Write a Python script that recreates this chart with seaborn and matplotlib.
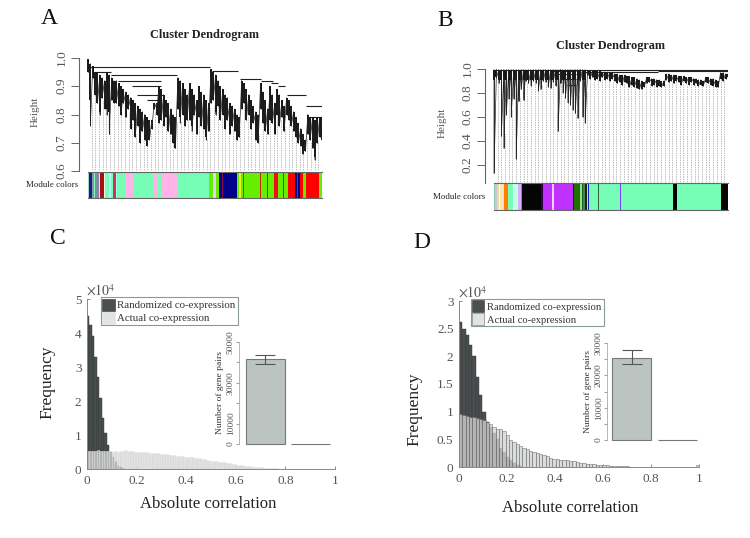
import numpy as np
import seaborn as sns
import matplotlib.pyplot as plt
from matplotlib.patches import Patch

W, H = 750, 538

# panel A dendrogram, one entry per stroke, left to right
a_top = [.995, .98, .97, .95, .95, .94, .93, .92, .95, .94, .93, .92,
         .92, .91, .90, .89, .88, .87, .86, .85, .84, .83, .82, .81, .80, .79, .78, .78,
         .84, .84, .90, .89, .87, .85, .84, .82, .80, .79,
         .93, .92, .91, .89, .87, .91, .89, .87, .85, .90, .88, .87, .85, .84,
         .96, .95, .94, .92, .90, .89, .87, .86, .84, .83, .82, .80, .79,
         .92, .91, .89, .87, .85, .83, .81, .80, .91, .88, .85, .82, .90, .87, .84,
         .89, .87, .85, .83, .86, .85, .83, .81, .79, .77, .75, .73, .71,
         .80, .79, .79, .78, .79, .79, .79]
a_bot = [.95, .76, .93, .87, .84, .80, .86, .82, .80, .73, .85, .84,
         .84, .83, .80, .84, .79, .82, .75, .78, .72, .76, .70, .74, .71, .69, .71, .75,
         .82, .80, .77, .78, .76, .79, .74, .73, .70, .68,
         .82, .77, .80, .76, .78, .78, .74, .80, .73, .79, .76, .75, .71, .74,
         .84, .85, .80, .83, .78, .80, .75, .78, .73, .76, .74, .71, .72,
         .82, .84, .78, .80, .75, .77, .71, .70, .82, .77, .74, .73, .78, .77, .73,
         .80, .76, .79, .74, .80, .78, .76, .74, .72, .70, .69, .66, .67,
         .73, .71, .68, .64, .70, .72, .71]
a_merge_x0 = [.01, .03, .10, .13, .19, .21, .25, .53, .65, .74, .78, .81, .85, .93, .95]
a_merge_x1 = [.52, .10, .38, .31, .31, .32, .30, .64, .74, .79, .81, .84, .93, 1.0, 1.0]
a_merge_h = [.967, .95, .94, .92, .90, .87, .85, .955, .925, .92, .91, .90, .87, .83, .79]

a_edges = [25, 28, 36, 43, 45, 58, 60, 73, 75, 88, 95, 100, 108, 113, 138, 160, 220, 233, 243, 292,
           388, 400, 408, 416, 425, 430, 472, 478, 484, 488, 491, 540, 543, 560, 562, 580, 594,
           608, 612, 622, 643, 650, 654, 660, 668, 678, 717, 725]
a_colors = ['#9fd8c8', '#1a1a80', '#8d8fb0', '#76fdb6', '#7f8ca8', '#e0e0e0', '#a81010', '#f0f0f0',
            '#76fdb6', '#a8fff0', '#76fdb6', '#d03060', '#a0ffe0', '#76fdb6', '#ffb3e6', '#76fdb6',
            '#ffb3e6', '#76fdb6', '#ffb3e6', '#76fdb6', '#66ee00', '#e8d0f0', '#66ee00', '#00008b',
            '#8b1040', '#00008b', '#66ee00', '#f0f020', '#66ee00', '#e82000', '#66ee00', '#d02010',
            '#66ee00', '#d02010', '#66ee00', '#f01010', '#66ee00', '#f01010', '#66ee00', '#ff0000',
            '#00008b', '#ff0000', '#00008b', '#ff0000', '#66ee00', '#ff0000', '#66ee00']

# panel B dendrogram
b_top = [.995] * 38 + [.985, .985, .98, .98, .98, .98, .975, .975, .975, .97, .97,
                       .96, .96, .95, .95, .95, .94, .94, .93, .93, .92, .91, .90, .89,
                       .93, .93, .92, .92, .91, .91, .90, .90,
                       .96, .96, .95, .95, .95, .94, .94, .94, .93, .93, .93, .92, .92, .91, .91, .90,
                       .93, .93, .92, .92, .91, .90, .97, .97, .96, .96]
b_bot = [.13, .93, .88, .44, .34, .62, .75, .60, .75, .25, .73, .83, .74, .90, .88, .86, .90, .88,
         .82, .83, .90, .89, .85, .84, .89, .86, .48, .88, .80, .76, .72, .70, .66, .63, .59, .90, .60, .55,
         .95, .92, .93, .91, .92, .90, .93, .91, .92, .90, .92,
         .90, .88, .89, .87, .89, .88, .85, .87, .85, .84, .83, .83, .85,
         .88, .89, .86, .87, .85, .86, .85, .86,
         .91, .89, .90, .88, .90, .89, .87, .90, .88, .87, .89, .87, .88, .86, .87, .86,
         .89, .88, .87, .86, .85, .85, .92, .90, .92, .93]
b_merge_x0 = [.0, .25, .27, .28, .31, .37, .70]
b_merge_x1 = [1.0, .35, .35, .35, .35, .70, 1.0]
b_merge_h = [.992, .98, .955, .915, .865, .975, .98]

b_edges = [13, 16, 22, 28, 32, 36, 42, 54, 70, 74, 84, 94, 97, 155, 160, 186, 193, 250, 253, 270, 276,
           280, 286, 291, 294, 297, 325, 327, 389, 393, 549, 561, 691, 713]
b_colors = ['#8fd0c0', '#c8c8c8', '#e8d8b0', '#ffffff', '#ffe8a0', '#f0e0d0', '#ff7f00', '#76fdb6',
            '#f0fff8', '#c0ffe8', '#d8b0ff', '#909090', '#050505', '#300040', '#c030ff', '#f8d0f8',
            '#c030ff', '#300040', '#207000', '#90e090', '#206020', '#508050', '#103010', '#76fdb6',
            '#2020d0', '#76fdb6', '#306040', '#76fdb6', '#8040ff', '#76fdb6', '#050505', '#76fdb6',
            '#050505']

# panel C histograms, x 10^4, bins of 0.01
c_random = [4.5, 4.25, 3.9, 3.3, 2.7, 2.1, 1.5, 1.05, .7, .5, .35, .2, .1, .05, .02]
c_actual = [.53, .54, .53, .54, .55, .54, .53, .54, .53, .52, .50, .52, .51, .53, .52, .55, .54, .53, .52, .51,
            .51, .50, .50, .49, .49, .48, .47, .47, .46, .45, .44, .44, .43, .42, .41, .40, .39, .38, .37, .36,
            .36, .35, .34, .33, .32, .31, .30, .28, .27, .25, .25, .24, .23, .22, .21, .20, .18, .17, .15, .14,
            .13, .12, .11, .10, .09, .08, .07, .06, .06, .05, .05, .04, .03, .03, .02, .02, .02, .01, .01, .01,
            .01, .01, .005, .005, .005, .005, 0, 0, 0, 0, 0, 0, 0, 0, 0, 0, 0, 0, 0, 0]
c_pairs = [41900, 60]
c_err = [(39400, 43800), (60, 60)]

# panel D histograms, x 10^4, 72 bins
d_random = [2.62, 2.5, 2.38, 2.2, 2.0, 1.62, 1.3, 1.0, .82, .72, .62, .5, .35, .27, .18, .12, .07, .03, .02]
d_actual = [.96, .94, .93, .91, .90, .88, .87, .85, .82, .77, .73, .68, .68, .65, .58, .48, .45, .41, .38, .35,
            .32, .29, .27, .25, .23, .21, .19, .16, .15, .14, .13, .13, .12, .11, .10, .09, .08, .07, .06, .06,
            .05, .045, .04, .035, .03, .025, .02, .018, .015, .012, .01, .008, .006, .005, .004, .003, .002, 0,
            0, 0, 0, 0, 0, 0, 0, 0, 0, 0, 0, 0, 0, .03]
d_pairs = [25500, 60]
d_err = [(23400, 27700), (60, 60)]

legend_names = ['Randomized co-expression', 'Actual co-expression']
fractions_ticks = [0, 0.2, 0.4, 0.6, 0.8, 1]
fractions_labels = ['0', '0.2', '0.4', '0.6', '0.8', '1']

sns.set_theme(style='white')
plt.rcParams['font.family'] = ['Liberation Serif', 'DejaVu Serif']
plt.rcParams['mathtext.fontset'] = 'stix'

fig = plt.figure(figsize=(W / 100, H / 100), dpi=100, facecolor='white')


def px_axes(left, top, right, bottom):
    ax = fig.add_axes([left / W, 1 - bottom / H, (right - left) / W, (bottom - top) / H])
    ax.patch.set_alpha(0)
    return ax


def px_text(x, y, s, **kw):
    kw.setdefault('ha', 'center')
    kw.setdefault('va', 'center')
    fig.text(x / W, 1 - y / H, s, **kw)


def dendro(box, x0_px, ylim, ticks, tops, bots, mx0, mx1, mh, n_guides, band, stroke):
    left, top, right, bottom = box
    ax = px_axes(*box)
    # leaves start a little to the right of the axis line
    span = right - x0_px
    ax.set_xlim((left - x0_px) / span, 1)
    ax.set_ylim(*ylim)
    tops = np.array(tops)
    bots = np.array(bots)
    x = np.linspace(0, 1, len(tops))
    guide_x = np.linspace(0.015, 1, n_guides)
    ax.vlines(guide_x, ylim[0], np.interp(guide_x, x, bots), color='#777777', lw=0.5, ls=(0, (1, 1.5)), zorder=1)
    # heavy band near the merge, thin hairs below it, sawtooth to knit them together
    ax.vlines(x, bots, tops, color='#333333', lw=0.7, zorder=3)
    ax.vlines(x, np.maximum(bots, tops - band), tops, color='#141414', lw=stroke, zorder=3)
    ax.plot(np.repeat(x, 2), np.column_stack([tops, bots]).ravel(), color='#222222', lw=0.5, zorder=3)
    ax.hlines(mh, mx0, mx1, color='#222222', lw=0.8, zorder=2)
    ax.set_xticks([])
    ax.set_yticks(ticks)
    ax.set_yticklabels([f'{t:.1f}' for t in ticks], rotation=90, va='center', fontsize=9.5, color='#555555')
    ax.tick_params(axis='y', left=True, length=6, width=0.7, color='#666666', pad=2)
    sns.despine(ax=ax, bottom=True)
    ax.spines['left'].set_color('#666666')
    ax.spines['left'].set_linewidth(0.8)
    return ax


def module_bar(box, edges, colors):
    ax = px_axes(*box)
    edges = np.array(edges, dtype=float)
    frac = (edges - edges[0]) / (edges[-1] - edges[0])
    ax.bar(frac[:-1], 1, width=np.diff(frac), align='edge', color=colors, lw=0)
    ax.set_xlim(0, 1)
    ax.set_ylim(0, 1)
    ax.set_xticks([])
    ax.set_yticks([])
    for side in ['left', 'right']:
        ax.spines[side].set_visible(False)
    for side in ['top', 'bottom']:
        ax.spines[side].set_color('#666666')
        ax.spines[side].set_linewidth(0.8)


def hist_panel(box, random, actual, n_bins, ylim, yticks, ylabels, edge):
    ax = px_axes(*box)
    w = 1 / n_bins
    rx = np.round((np.arange(len(random)) + 0.5) * w, 5)
    ax_x = np.round((np.arange(len(actual)) + 0.5) * w, 5)
    sns.barplot(x=rx, y=random, native_scale=True, width=1, color='#4a4f50', saturation=1,
                edgecolor='#333333', linewidth=0.3, ax=ax)
    sns.barplot(x=ax_x, y=actual, native_scale=True, width=1, color='#d2d4d3', saturation=1, alpha=0.78,
                edgecolor=edge, linewidth=0.4, ax=ax)
    ax.set_xlim(0, 1)
    ax.set_ylim(*ylim)
    ax.set_xticks(fractions_ticks)
    ax.set_xticklabels(fractions_labels, fontsize=9.5, color='#555555')
    ax.set_yticks(yticks)
    ax.set_yticklabels(ylabels, fontsize=9.5, color='#555555')
    ax.tick_params(left=True, bottom=True, direction='in', length=2, width=0.6, color='#777777', pad=4)
    ax.set_xlabel('')
    ax.set_ylabel('')
    sns.despine(ax=ax)
    for side in ['left', 'bottom']:
        ax.spines[side].set_color('#888888')
        ax.spines[side].set_linewidth(0.7)
    return ax


def add_legend(box, actual_edge, size):
    handles = [Patch(facecolor='#4a4f50', edgecolor='#333333', lw=0.4),
               Patch(facecolor='#e2e4e3', edgecolor=actual_edge, lw=0.4)]
    l, t, r, b = box
    leg = fig.legend(handles, legend_names, loc='lower left',
                     bbox_to_anchor=(l / W, 1 - b / H, (r - l) / W, (b - t) / H), mode='expand',
                     fontsize=size, handlelength=1.15, handleheight=1.3, handletextpad=0.25, labelspacing=0.12,
                     borderpad=0.12, borderaxespad=0, fancybox=False, framealpha=1, edgecolor='#8a9a98')
    leg.get_frame().set_linewidth(0.8)
    for txt in leg.get_texts():
        txt.set_color('#333333')


def inset_bars(box, xlim, vals, err, yticks, ylabels, minor, top_value):
    ax = px_axes(*box)
    cats = ['Actual', 'Randomized']
    sns.barplot(x=cats, y=vals, color='#bcc4c2', saturation=1, width=0.85, edgecolor='#777777', linewidth=0.8, ax=ax)
    for bar in ax.patches:
        bar.set_clip_on(False)
    low, high = err[0]
    ax.errorbar([0], [vals[0]], yerr=[[vals[0] - low], [high - vals[0]]], color='#555555', lw=0.8, capsize=7,
                capthick=0.8)
    ax.set_xlim(*xlim)
    ax.set_ylim(0, top_value)
    ax.set_xticks([])
    ax.set_yticks(minor, minor=True)
    ax.set_yticks(yticks)
    ax.set_yticklabels(ylabels, rotation=90, va='center', fontsize=6.8, color='#555555')
    ax.tick_params(axis='y', which='both', left=True, direction='out', length=2, width=0.5, color='#777777', pad=1)
    ax.set_ylabel('Number of gene pairs', fontsize=6.8, color='#333333', labelpad=2)
    ax.set_xlabel('')
    sns.despine(ax=ax, bottom=True)
    ax.spines['left'].set_color('#999999')
    ax.spines['left'].set_linewidth(0.5)


# A
dendro((79, 58, 322, 171), 88, (0.6, 1.0), [0.6, 0.7, 0.8, 0.9, 1.0], a_top, a_bot,
       a_merge_x0, a_merge_x1, a_merge_h, 63, 0.13, 1.4)
module_bar((88, 172, 322, 198), a_edges, a_colors)
px_text(49, 19, 'A', fontsize=17, color='#111111')
px_text(204, 35, 'Cluster Dendrogram', fontsize=8.8, fontweight='bold', color='#222222')
px_text(35, 112, 'Height', fontsize=8, rotation=90, color='#555555')
px_text(52, 185, 'Module colors', fontsize=6.4, color='#222222')

# B
dendro((485, 69, 728, 183), 494, (0.05, 1.0), [0.2, 0.4, 0.6, 0.8, 1.0], b_top, b_bot,
       b_merge_x0, b_merge_x1, b_merge_h, 63, 0.09, 1.45)
module_bar((494, 183, 728, 210), b_edges, b_colors)
px_text(445, 21, 'B', fontsize=17, color='#111111')
px_text(610, 46, 'Cluster Dendrogram', fontsize=8.8, fontweight='bold', color='#222222')
px_text(442, 123, 'Height', fontsize=8, rotation=90, color='#555555')
px_text(459, 197, 'Module colors', fontsize=6.4, color='#222222')

# C
hist_panel((87, 299, 335, 469), c_random, c_actual, 100, (0, 5), [0, 1, 2, 3, 4, 5],
           ['0', '1', '2', '3', '4', '5'], '#e6e6e6')
add_legend((101, 299, 238, 325), '#dddddd', 7.8)
inset_bars((239, 342, 335, 444), (-0.585, 1.54), c_pairs, c_err, [0, 10000, 30000, 50000],
           ['0', '10000', '30000', '50000'], [20000, 40000], 50000)
px_text(58, 238, 'C', fontsize=17, color='#111111')
px_text(101, 291, r'$\times 10^4$', fontsize=10, color='#555555')
px_text(47, 382, 'Frequency', fontsize=12.5, rotation=90, color='#222222')
px_text(208, 504, 'Absolute correlation', fontsize=12, color='#222222')

# D
hist_panel((459, 301, 699, 467), d_random, d_actual, 72, (0, 3), [0, 0.5, 1, 1.5, 2, 2.5, 3],
           ['0', '0.5', '1', '1.5', '2', '2.5', '3'], '#555555')
add_legend((471, 301, 604, 326), '#666666', 7.6)
inset_bars((607, 343, 700, 440), (-0.54, 1.5), d_pairs, d_err, [0, 10000, 20000, 30000],
           ['0', '10000', '20000', '30000'], [5000, 15000, 25000], 30000)
px_text(422, 243, 'D', fontsize=17, color='#111111')
px_text(473, 293, r'$\times 10^4$', fontsize=10, color='#555555')
px_text(414, 409, 'Frequency', fontsize=12.5, rotation=90, color='#222222')
px_text(570, 508, 'Absolute correlation', fontsize=12, color='#222222')

fig.savefig('out.png', dpi=100)
